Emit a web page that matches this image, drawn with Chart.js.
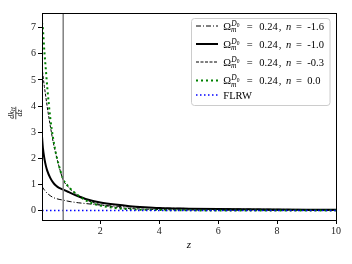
<!DOCTYPE html>
<html>
<head>
<meta charset="utf-8">
<script src="https://cdn.jsdelivr.net/npm/chart.js@4/dist/chart.umd.min.js"></script>
<style>
  html, body { margin: 0; padding: 0; background: #fff; }
  canvas { display: block; }
</style>
</head>
<body>
<canvas id="chartviewport" width="352" height="264"></canvas>
<script>
// redshift grid shared by every curve
const zValues = [0.02, 0.05, 0.1, 0.15, 0.2, 0.3, 0.4, 0.5, 0.6, 0.74, 0.9, 1.0, 1.25, 1.5, 1.75, 2, 2.5, 3, 3.5, 4, 5, 6, 7, 8, 9, 10];
// dk_H/dz, one array per n
const dkN16 = [0.93, 0.87, 0.79, 0.72, 0.66, 0.57, 0.50, 0.46, 0.43, 0.40, 0.36, 0.34, 0.30, 0.27, 0.24, 0.21, 0.17, 0.14, 0.12, 0.10, 0.08, 0.065, 0.055, 0.048, 0.042, 0.037];
const dkN10 = [2.83, 2.40, 2.00, 1.72, 1.52, 1.25, 1.07, 0.95, 0.87, 0.80, 0.72, 0.67, 0.55, 0.45, 0.37, 0.31, 0.23, 0.17, 0.13, 0.10, 0.075, 0.06, 0.05, 0.042, 0.036, 0.032];
const dkN03 = [5.50, 5.20, 4.75, 4.35, 3.95, 3.25, 2.62, 2.12, 1.68, 1.17, 0.92, 0.80, 0.58, 0.42, 0.31, 0.23, 0.13, 0.08, 0.055, 0.04, 0.025, 0.017, 0.012, 0.01, 0.008, 0.007];
const dkN00 = [7.20, 6.95, 6.10, 5.40, 4.70, 3.55, 2.75, 2.15, 1.70, 1.20, 0.94, 0.82, 0.58, 0.40, 0.27, 0.19, 0.10, 0.05, 0.03, 0.02, 0.01, 0.005, 0.003, 0.002, 0.001, 0.001];
const dkFLRW = zValues.map(() => 0);
const nLabels = ['-1.6', '-1.0', '-0.3', '0.0'];
const omegaD0 = '0.24';
const zMark = 0.74;
const xTicks = [2, 4, 6, 8, 10];
const yTicks = [0, 1, 2, 3, 4, 5, 6, 7];
const xRange = [0.02, 10];
const yRange = [-0.36, 7.56];

const SERIF = '"Liberation Serif", "DejaVu Serif", serif';

function pts(vals) {
    return zValues.map((z, i) => ({ x: z, y: vals[i] }));
}

const styles = [
    { color: '#000000', width: 1, dash: [5, 2, 1, 2] },
    { color: '#000000', width: 2, dash: [] },
    { color: '#000000', width: 1, dash: [3, 1.5] },
    { color: '#008000', width: 2, dash: [2, 3] },
    { color: '#0000ff', width: 1.5, dash: [1.5, 2.5] }
];

const seriesVals = [dkN16, dkN10, dkN03, dkN00, dkFLRW];
const datasets = seriesVals.map((vals, i) => ({
    data: pts(vals),
    borderColor: styles[i].color,
    borderWidth: styles[i].width,
    borderDash: styles[i].dash,
    pointRadius: 0,
    fill: false,
    cubicInterpolationMode: 'monotone',
    order: 6 - i
}));
// vertical marker line
datasets.push({
    data: [{ x: zMark, y: yRange[0] }, { x: zMark, y: yRange[1] }],
    borderColor: '#808080',
    borderWidth: 1.5,
    pointRadius: 0,
    fill: false,
    order: 0
});

function drawLegend(ctx) {
    ctx.save();
    ctx.beginPath();
    ctx.roundRect(191.5, 18.5, 138.5, 87, 3);
    ctx.fillStyle = 'rgba(255,255,255,0.8)';
    ctx.fill();
    ctx.strokeStyle = '#cccccc';
    ctx.lineWidth = 1;
    ctx.stroke();
    const rows = [26, 44, 62, 80.5, 95];
    const x0 = 223.3;
    rows.forEach((ry, i) => {
        ctx.beginPath();
        ctx.strokeStyle = styles[i].color;
        ctx.lineWidth = styles[i].width;
        ctx.setLineDash(styles[i].dash);
        ctx.moveTo(196, ry);
        ctx.lineTo(218, ry);
        ctx.stroke();
        ctx.setLineDash([]);
        ctx.fillStyle = '#000';
        ctx.textBaseline = 'alphabetic';
        const by = ry + 3.8;
        if (i === 4) {
            ctx.font = '10.5px ' + SERIF;
            ctx.fillText('FLRW', x0, by);
            return;
        }
        ctx.font = '10.5px ' + SERIF;
        ctx.fillText('\u03A9', x0, by);
        ctx.font = 'italic 7.5px ' + SERIF;
        ctx.fillText('m', x0 + 7.8, by + 2.5);
        ctx.fillText('D', x0 + 8, by - 4.2);
        const wD = ctx.measureText('D').width;
        ctx.font = '5.5px ' + SERIF;
        ctx.fillText('0', x0 + 8 + wD, by - 2.8);
        ctx.font = '10.5px ' + SERIF;
        ctx.fillText('=', x0 + 23.4, by);
        ctx.fillText(omegaD0, x0 + 36, by);
        ctx.fillText(',', x0 + 55.5, by);
        ctx.font = 'italic 10.5px ' + SERIF;
        ctx.fillText('n', x0 + 62.7, by);
        ctx.font = '10.5px ' + SERIF;
        ctx.fillText('=', x0 + 72.7, by);
        ctx.fillText(nLabels[i], x0 + 84, by);
    });
    ctx.restore();
}

function drawAxisLabels(ctx, area) {
    ctx.save();
    ctx.fillStyle = '#000';
    ctx.textAlign = 'center';
    ctx.textBaseline = 'alphabetic';
    ctx.font = 'italic 11px ' + SERIF;
    ctx.fillText('z', (area.left + area.right) / 2, 248);
    // rotated fraction dk_H / dz
    ctx.translate(15.5, 113);
    ctx.rotate(-Math.PI / 2);
    ctx.font = 'italic 8px ' + SERIF;
    const wdk = ctx.measureText('dk').width;
    ctx.font = 'italic 5.5px ' + SERIF;
    const wH = ctx.measureText('H').width;
    const wn = wdk + wH;
    ctx.textAlign = 'left';
    ctx.font = 'italic 8px ' + SERIF;
    ctx.fillText('dk', -wn / 2, -1.8);
    ctx.font = 'italic 5.5px ' + SERIF;
    ctx.fillText('H', -wn / 2 + wdk, -0.3);
    ctx.fillRect(-wn / 2 - 0.5, 0, wn + 1, 0.7);
    ctx.textAlign = 'center';
    ctx.font = 'italic 8px ' + SERIF;
    ctx.fillText('dz', 0, 6.8);
    ctx.restore();
}

const framePlugin = {
    id: 'frame',
    afterDraw(chart) {
        const ctx = chart.ctx;
        const a = chart.chartArea;
        ctx.save();
        ctx.strokeStyle = '#000';
        ctx.lineWidth = 1;
        ctx.strokeRect(Math.round(a.left) + 0.5, Math.round(a.top) + 0.5, Math.round(a.right - a.left), Math.round(a.bottom - a.top));
        ctx.restore();
        drawLegend(ctx);
        drawAxisLabels(ctx, a);
    }
};

new Chart(document.getElementById('chartviewport'), {
    type: 'line',
    data: { datasets: datasets },
    options: {
        responsive: false,
        animation: false,
        devicePixelRatio: 1,
        layout: { padding: { top: 13, right: 16, left: 0, bottom: 0 } },
        plugins: { legend: { display: false }, tooltip: { enabled: false } },
        scales: {
            x: {
                type: 'linear',
                min: xRange[0],
                max: xRange[1],
                afterBuildTicks: (s) => { s.ticks = xTicks.map(v => ({ value: v })); },
                afterFit: (s) => { s.height = 44; },
                grid: { drawOnChartArea: false, drawTicks: true, tickLength: 4, color: '#000' },
                border: { color: '#000', width: 1 },
                ticks: { font: { family: SERIF, size: 10 }, color: '#222', padding: 1, maxRotation: 0 }
            },
            y: {
                type: 'linear',
                min: yRange[0],
                max: yRange[1],
                afterBuildTicks: (s) => { s.ticks = yTicks.map(v => ({ value: v })); },
                afterFit: (s) => { s.width = 42; },
                grid: { drawOnChartArea: false, drawTicks: true, tickLength: 4, color: '#000' },
                border: { color: '#000', width: 1 },
                ticks: { font: { family: SERIF, size: 10 }, color: '#222', padding: 2 }
            }
        }
    },
    plugins: [framePlugin]
});
</script>
</body>
</html>
